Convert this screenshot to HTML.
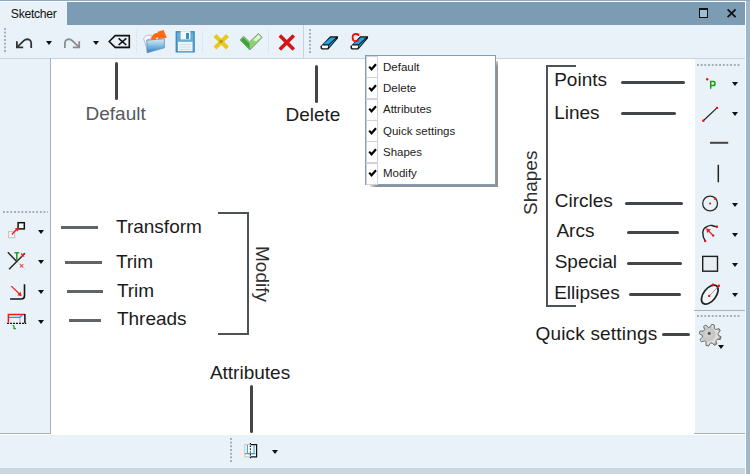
<!DOCTYPE html>
<html><head><meta charset="utf-8">
<style>
*{margin:0;padding:0;box-sizing:border-box}
html,body{width:750px;height:474px;overflow:hidden;background:#a0b8ca}
body{position:relative;font-family:"Liberation Sans",sans-serif}
.a{position:absolute}
.lt{background:#e9f2f8}
.t{position:absolute;white-space:nowrap;line-height:1}
.dd{position:absolute;width:0;height:0;border-left:3.5px solid transparent;border-right:3.5px solid transparent;border-top:4px solid #111}
.grip{position:absolute;width:2px;background-image:linear-gradient(#a3abb3 40%,transparent 40%);background-size:2px 3.7px}
.griph{position:absolute;height:2px;background-image:linear-gradient(90deg,#a3abb3 50%,transparent 50%);background-size:3.7px 2px}
.ln{position:absolute;background:#42464a}
.ln.g{background:#616467}
.ann{position:absolute;white-space:nowrap;line-height:1;font-size:19px;color:#1b1b1b}
.mi{position:absolute;left:0;width:130px;height:21.33px}
.mi .cb{position:absolute;left:0;top:0;width:12px;height:22px;border:1px solid #cfd3d7;background:#fff}
.mi .ck{position:absolute;left:2px;top:6.7px}
.mi .tx{position:absolute;left:17px;top:4.5px;font-size:11.5px;color:#1f1a1a;white-space:nowrap}
</style></head><body>
<!-- top line -->
<div class="a" style="left:0;top:0;width:750px;height:1px;background:#8eaac0"></div>
<div class="a" style="left:0;top:1px;width:746px;height:473px;background:#fff"></div>
<!-- tab -->
<div class="a lt" style="left:0;top:2px;width:67px;height:23px"></div>
<div class="t" style="left:10.8px;top:8.4px;font-size:12.2px;letter-spacing:-0.3px;color:#111">Sketcher</div>
<div class="a" style="left:67px;top:2px;width:678px;height:23px;background:#7b9cb3"></div>
<!-- maximize / close -->
<div class="a" style="left:699.4px;top:8px;width:9px;height:9.8px;border:1.8px solid #111;border-top-width:2.4px;background:#9fbfd4"></div>
<svg class="a" style="left:726px;top:8px" width="11" height="11" viewBox="0 0 11 11"><path d="M1.6 1.4 L9.6 9.2 M9.6 1.4 L1.6 9.2" stroke="#111" stroke-width="1.8"/></svg>
<!-- toolbar -->
<div class="a lt" style="left:0;top:25px;width:745px;height:33px"></div>
<div class="a" style="left:0;top:58px;width:745px;height:1px;background:#c9d3db"></div>
<div class="grip" style="left:4px;top:28px;height:26px"></div>
<div class="a" style="left:303px;top:25px;width:1px;height:33px;background:#c9d3db"></div>
<div class="grip" style="left:309px;top:29px;height:25px"></div>

<!-- left strip -->
<div class="a lt" style="left:0;top:59px;width:50px;height:374px"></div>
<div class="a" style="left:50px;top:58px;width:1px;height:376px;background:#aab2b9"></div>
<div class="a" style="left:0;top:433px;width:51px;height:1px;background:#aab2b9"></div>
<div class="griph" style="left:3px;top:211px;width:45px"></div>
<!-- right strip -->
<div class="a lt" style="left:695px;top:59px;width:50px;height:374px"></div>
<div class="a" style="left:694px;top:433px;width:51px;height:1px;background:#aab2b9"></div>
<div class="griph" style="left:697px;top:64px;width:44px"></div>
<div class="a" style="left:694px;top:310px;width:51px;height:1px;background:#aab2b9"></div>
<div class="griph" style="left:697px;top:315px;width:44px"></div>
<!-- bottom bar -->
<div class="a lt" style="left:0;top:435px;width:745px;height:33px"></div>
<div class="a" style="left:0;top:468px;width:745px;height:6px;background:#c9d7de"></div>
<div class="grip" style="left:230px;top:438px;height:25px"></div>

<!-- annotations -->
<div class="ln" style="left:115px;top:62px;width:3px;height:38px;border-radius:1.5px"></div>
<div class="ann" style="left:85.5px;top:104.3px;color:#55595d">Default</div>
<div class="ln" style="left:315px;top:65px;width:3px;height:38px;border-radius:1.5px"></div>
<div class="ann" style="left:285.5px;top:105.2px">Delete</div>
<div class="ln" style="left:250px;top:384.5px;width:3px;height:48px;border-radius:1.5px"></div>
<div class="ann" style="left:209.9px;top:362.5px">Attributes</div>

<div class="ln g" style="left:61px;top:226px;width:37px;height:3px"></div>
<div class="ann" style="left:116px;top:217px">Transform</div>
<div class="ln g" style="left:64.6px;top:261px;width:37px;height:3px"></div>
<div class="ann" style="left:115.9px;top:251.6px">Trim</div>
<div class="ln g" style="left:66.7px;top:290px;width:36px;height:3px"></div>
<div class="ann" style="left:116.9px;top:281px">Trim</div>
<div class="ln g" style="left:68.9px;top:318.5px;width:32px;height:3px"></div>
<div class="ann" style="left:116.9px;top:309.2px">Threads</div>
<!-- modify bracket -->
<div class="a" style="left:217.5px;top:212px;width:31px;height:123px;border:2px solid #4d5257;border-left:none"></div>
<div class="ann rot" style="color:#2e2e2e;left:253.2px;top:246.4px;transform-origin:0 0;transform:translate(19px,0) rotate(90deg)">Modify</div>

<!-- shapes bracket -->
<div class="a" style="left:545.5px;top:65px;width:30px;height:242px;border:2px solid #4d5257;border-right:none"></div>
<div class="ann rot" style="color:#2e2e2e;left:520.8px;top:214.6px;transform-origin:0 0;transform:rotate(-90deg)">Shapes</div>
<div class="ann" style="left:554.2px;top:70.2px">Points</div>
<div class="ln" style="left:620.5px;top:80.5px;width:64.5px;height:3px;border-radius:1.5px"></div>
<div class="ann" style="left:554.2px;top:102.9px">Lines</div>
<div class="ln" style="left:620.5px;top:112px;width:55.5px;height:3px;border-radius:1.5px"></div>
<div class="ann" style="left:554.7px;top:190.6px">Circles</div>
<div class="ln" style="left:624.5px;top:201.5px;width:58.5px;height:3px;border-radius:1.5px"></div>
<div class="ann" style="left:556.4px;top:221px">Arcs</div>
<div class="ln" style="left:626.5px;top:230.5px;width:52.5px;height:3px;border-radius:1.5px"></div>
<div class="ann" style="left:554.7px;top:251.9px">Special</div>
<div class="ln" style="left:627px;top:261.5px;width:54.5px;height:3px;border-radius:1.5px"></div>
<div class="ann" style="left:554.2px;top:283px">Ellipses</div>
<div class="ln" style="left:628.5px;top:293px;width:52.5px;height:3px;border-radius:1.5px"></div>
<div class="ann" style="left:535.5px;top:324.4px;letter-spacing:0.18px">Quick settings</div>
<div class="ln" style="left:662px;top:333px;width:28px;height:3px;border-radius:1.5px"></div>

<!-- icons overlay -->
<svg class="a" style="left:0;top:0" width="750" height="474" viewBox="0 0 750 474">
<defs>
 <linearGradient id="fold" x1="0" y1="0" x2="0" y2="1"><stop offset="0" stop-color="#d8ecf8"/><stop offset="0.45" stop-color="#8cc2e6"/><stop offset="1" stop-color="#2f7fc0"/></linearGradient>
 <radialGradient id="gear" cx="0.4" cy="0.45" r="0.6"><stop offset="0" stop-color="#d8d8d8"/><stop offset="0.45" stop-color="#c4c4c4"/><stop offset="0.75" stop-color="#e8e8e8"/><stop offset="1" stop-color="#8a8a8a"/></radialGradient>
</defs>
<!-- undo -->
<g fill="none" stroke="#333" stroke-width="1.8" stroke-linecap="butt">
 <path d="M16.9 41.2 V47.4 H23.2"/>
 <path d="M17.4 46.9 L23.8 40.6 Q26.6 38.4 29.4 39.8 Q31.2 40.9 31.2 43.2 V48"/>
</g>
<!-- redo -->
<g fill="none" stroke="#8c8c8c" stroke-width="1.8">
 <path d="M79.2 41.2 V47.4 H72.9"/>
 <path d="M78.7 46.9 L72.3 40.6 Q69.5 38.4 66.7 39.8 Q64.9 40.9 64.9 43.2 V48"/>
</g>
<!-- backspace -->
<path d="M109.2 41.5 L115.2 35.6 H129.3 V47.4 H115.2 Z" fill="none" stroke="#111" stroke-width="1.6" stroke-linejoin="miter"/>
<path d="M115.2 47.6 H129.3" stroke="#111" stroke-width="1"/>
<path d="M118.6 38.3 L126.3 45 M126.3 38.3 L118.6 45" stroke="#111" stroke-width="1.6"/>
<!-- separators -->
<path d="M136.5 30 V54" stroke="#d4dde4" stroke-width="1" stroke-dasharray="1 1"/>
<path d="M202.5 30 V54" stroke="#d4dde4" stroke-width="1" stroke-dasharray="1 1"/>
<path d="M268.5 30 V54" stroke="#d4dde4" stroke-width="1" stroke-dasharray="1 1"/>
<!-- folder -->
<path d="M143.5 38.5 L146 35.5 L151 35 L152.5 38 L147 40 L147.5 51 Z" fill="#f4f6f8" stroke="#b8c0c6" stroke-width="1"/>
<path d="M146.8 40.2 L164.4 38.8 L164.4 47.8 L147.1 52.8 Z" fill="url(#fold)" stroke="#5c93bb" stroke-width="0.8"/>
<path d="M153.4 40 Q153.2 35.2 158.5 35" fill="none" stroke="#ff6a12" stroke-width="4.6"/>
<path d="M157.5 31.8 L163.6 30 L166.8 37.8 L158.2 39.2 Z" fill="#ff6a12"/>
<!-- floppy -->
<rect x="176.3" y="31.8" width="17.8" height="20" fill="#64acd6" stroke="#3d8dbd" stroke-width="1.4"/>
<rect x="180.6" y="31.2" width="9.8" height="8.2" fill="#f4f8fa"/>
<rect x="186" y="33" width="3" height="5.9" fill="#3a8fbe"/>
<rect x="178" y="41.8" width="14.5" height="9.4" fill="#eef4f8"/>
<path d="M179.5 44.5 H191 M179.5 47 H191 M179.5 49.5 H191" stroke="#c9dce8" stroke-width="0.8"/>
<!-- yellow x -->
<g stroke="#e8c81a" stroke-width="4" stroke-linecap="butt"><path d="M215 35.5 L227.5 48 M227.5 35.5 L215 48"/></g>
<g fill="#b08a10"><rect x="219.5" y="40" width="3" height="3" opacity="0.75"/></g>
<!-- green check -->
<path d="M240.2 40 L243.5 36.2 L249.5 42 L258.5 33.5 L262 37.5 L249.8 50 Z" fill="#8fd46a" stroke="#7a9a86" stroke-width="1"/>
<path d="M240.8 40.2 L243.5 37.5 L249.5 43.5 L249.8 49.2 Z" fill="#3fa23a"/>
<path d="M253 40 L258.5 34.5 L261 37.3 L256 41.5 Z" fill="#e4f4d8"/>
<!-- red x -->
<g stroke="#d01818" stroke-width="3.6"><path d="M279.8 35.5 L293.8 49.5 M293.8 35.5 L279.8 49.5"/></g>
<!-- eraser 1 -->
<g transform="translate(0,0)">
 <path d="M320.6 46.2 L330.2 36.3 L338.2 36.3 L337.8 38.6 L328.3 49.6 L322.2 49.6 Q320.2 49.4 320.6 46.2 Z" fill="#111"/>
 <path d="M323 44.2 L330.8 37.6 L336 37.6 L328.6 44.2 Z" fill="#1fa5e2"/>
 <path d="M329.4 44.8 L336.6 38.6 L328.8 47.6 Z" fill="#1fa5e2"/>
 <path d="M322 45.6 L328.4 45.6 L327.6 48.2 L322.4 48.2 Q321.6 47.2 322 45.6 Z" fill="#fff"/>
</g>
<g transform="translate(30,0)">
 <path d="M320.6 46.2 L330.2 36.3 L338.2 36.3 L337.8 38.6 L328.3 49.6 L322.2 49.6 Q320.2 49.4 320.6 46.2 Z" fill="#111"/>
 <path d="M323 44.2 L330.8 37.6 L336 37.6 L328.6 44.2 Z" fill="#1fa5e2"/>
 <path d="M329.4 44.8 L336.6 38.6 L328.8 47.6 Z" fill="#1fa5e2"/>
 <path d="M322 45.6 L328.4 45.6 L327.6 48.2 L322.4 48.2 Q321.6 47.2 322 45.6 Z" fill="#fff"/>
</g>
<path d="M358.6 35.2 Q357.5 34 355.6 34 Q352.6 34 352.6 37.6 Q352.6 41.2 355.6 41.2 Q357.5 41.2 358.6 40" fill="none" stroke="#f01010" stroke-width="1.8"/>
<path d="M358.6 33.6 V36" stroke="#f01010" stroke-width="1.4"/>

<!-- left strip: transform -->
<rect x="8.6" y="231.5" width="6.2" height="6.2" fill="#f4f6f8" stroke="#c4c8cc" stroke-width="1.2"/>
<rect x="18.1" y="222.7" width="6.2" height="6.2" fill="#fbfcfd" stroke="#111" stroke-width="1.5"/>
<path d="M11.8 234.4 L17.5 228.6" stroke="#f01c1c" stroke-width="1.4"/>
<path d="M19 227.2 L14.8 228.4 L17.8 231.4 Z" fill="#f01c1c"/>
<!-- trim -->
<path d="M7.8 252.3 L16.5 261.2" stroke="#222" stroke-width="1.4"/>
<path d="M16.5 261.2 L24.9 269.4" stroke="#c8ccd0" stroke-width="1"/>
<path d="M9.1 269.2 L24.9 253.3" stroke="#222" stroke-width="1.4"/>
<path d="M14.4 252.8 H19.2 M16.8 252.8 V260.2" stroke="#2f9a2f" stroke-width="1.6"/>
<path d="M21 253.5 L24.2 256.7 M24.2 253.5 L21 256.7" stroke="#f02020" stroke-width="1.1"/>
<path d="M20 264.2 L23.2 267.4 M23.2 264.2 L20 267.4" stroke="#f05050" stroke-width="1.1"/>
<!-- fillet -->
<path d="M24.5 284.3 V295.8 Q24.5 299 21.3 299 H10.1" fill="none" stroke="#151515" stroke-width="1.6"/>
<path d="M11.3 286.1 L19.8 294.3" stroke="#f02020" stroke-width="1.3"/>
<path d="M21.8 296.2 L17.2 295.2 L20.6 291.8 Z" fill="#f02020"/>
<!-- threads -->
<path d="M8.4 322.6 V314.4 H25" fill="none" stroke="#f01818" stroke-width="1.5"/>
<path d="M24.9 314 V323.2" stroke="#111" stroke-width="1.5"/>
<path d="M9 317.3 H19.8 L22.3 315" fill="none" stroke="#1ca0e0" stroke-width="1.2"/>
<path d="M19.9 317.6 V322.6" stroke="#e05060" stroke-width="1.2" stroke-dasharray="1 1"/>
<path d="M7 323.3 H26.2" stroke="#111" stroke-width="1.2" stroke-dasharray="2 1"/>
<path d="M12.8 325.2 L14 326.4 V328.6 H15.9" fill="none" stroke="#2a9a2a" stroke-width="1.3"/>

<!-- right strip: point -->
<circle cx="707.2" cy="79.3" r="1.2" fill="#f01010"/>
<path d="M710.7 88.7 V81.6 H713.3 Q715 81.6 715 83.7 Q715 85.6 713.3 85.6 H710.7" fill="none" stroke="#1c9a1c" stroke-width="1.5"/>
<!-- line -->
<path d="M703.3 120.8 L717 107.9" stroke="#222" stroke-width="1.2"/>
<circle cx="703.3" cy="120.8" r="1.2" fill="#f01010"/>
<circle cx="717" cy="107.9" r="1.2" fill="#f01010"/>
<path d="M710 142.8 H728.2" stroke="#444" stroke-width="2"/>
<path d="M718.3 164.8 V182.3" stroke="#222" stroke-width="1.5"/>
<!-- circle -->
<circle cx="710.1" cy="203.5" r="7.4" fill="none" stroke="#2a2a2a" stroke-width="1.3"/>
<circle cx="710.1" cy="203.5" r="1.1" fill="#f01010"/>
<circle cx="715.2" cy="198.7" r="1.2" fill="#f01010"/>
<!-- arc -->
<path d="M705.2 241 Q702.6 237 702.8 232.5 Q703 228.5 706.5 226.8 Q709.5 225 712 225.5 Q714 226.5 717 226.8" fill="none" stroke="#222" stroke-width="1.4"/>
<path d="M713.2 235.6 L708 230.2" stroke="#f02020" stroke-width="1.3"/>
<path d="M706 228.2 L707.2 233 L710.8 229.4 Z" fill="#f02020"/>
<circle cx="705.2" cy="241.1" r="1.2" fill="#f01010"/>
<circle cx="713.2" cy="235.6" r="1.2" fill="#f01010"/>
<circle cx="717" cy="226.8" r="1.2" fill="#f01010"/>
<!-- square -->
<rect x="702.7" y="256.4" width="14.8" height="14.8" fill="#e8eef2" stroke="#1e1e1e" stroke-width="1.4"/>
<!-- ellipse -->
<ellipse cx="709.8" cy="294.6" rx="11" ry="6.2" transform="rotate(-52 709.8 294.6)" fill="#f2f5f7" stroke="#222" stroke-width="1.7"/>
<path d="M709.2 295.9 L717.5 287.5" stroke="#888" stroke-width="0.8"/>
<circle cx="709.2" cy="295.9" r="1.2" fill="#f01010"/>
<circle cx="712.8" cy="284.9" r="1.3" fill="#f01010"/>
<circle cx="718.8" cy="285.8" r="1.3" fill="#f01010"/>
<!-- gear -->
<g transform="translate(710.2 335.2)">
 <path d="M0.00 -8.00 L1.55 -10.89 L4.21 -10.16 L4.07 -6.89 L5.66 -5.66 L8.80 -6.60 L10.16 -4.21 L7.75 -1.99 L8.00 0.00 L10.89 1.55 L10.16 4.21 L6.89 4.07 L5.66 5.66 L6.60 8.80 L4.21 10.16 L1.99 7.75 L0.00 8.00 L-1.55 10.89 L-4.21 10.16 L-4.07 6.89 L-5.66 5.66 L-8.80 6.60 L-10.16 4.21 L-7.75 1.99 L-8.00 0.00 L-10.89 -1.55 L-10.16 -4.21 L-6.89 -4.07 L-5.66 -5.66 L-6.60 -8.80 L-4.21 -10.16 L-1.99 -7.75 Z" fill="url(#gear)" stroke="#6e6e6e" stroke-width="1" stroke-linejoin="round"/>
 <circle cx="-1" cy="-1.8" r="1.6" fill="#5a5a5a"/>
</g>
<!-- attributes icon -->
<rect x="244.8" y="444.6" width="5.8" height="12.2" fill="#fafcfd" stroke="#c0c4c8" stroke-width="1"/>
<path d="M250.6 444.6 H256.6 V456.8 H250.6" fill="#fafcfd" stroke="#111" stroke-width="1.2"/>
<path d="M247.4 445 V453.7 H254 V445 M245 453.7 H255.5" fill="none" stroke="#18a0e8" stroke-width="1"/>
<path d="M250.4 443 V458.5" stroke="#111" stroke-width="1.2" stroke-dasharray="1.2 1.6"/>
</svg>
<!-- dropdown arrows -->
<div class="dd" style="left:45.5px;top:40.8px"></div>
<div class="dd" style="left:93px;top:40.8px"></div>
<div class="dd" style="left:38px;top:230.2px"></div>
<div class="dd" style="left:38px;top:260.2px"></div>
<div class="dd" style="left:38px;top:290.2px"></div>
<div class="dd" style="left:38px;top:320.4px"></div>
<div class="dd" style="left:731.5px;top:82px"></div>
<div class="dd" style="left:731.5px;top:112.3px"></div>
<div class="dd" style="left:731.5px;top:202.5px"></div>
<div class="dd" style="left:731.5px;top:232.6px"></div>
<div class="dd" style="left:731.5px;top:263.1px"></div>
<div class="dd" style="left:731.5px;top:293.3px"></div>
<div class="dd" style="left:718px;top:344.9px"></div>
<div class="dd" style="left:272px;top:450px"></div>
<!-- popup menu -->
<div class="a" style="left:496px;top:61px;width:2px;height:126px;background:linear-gradient(#c8ccd0,#8e9296 6px)"></div>
<div class="a" style="left:370px;top:185px;width:126px;height:2px;background:linear-gradient(90deg,#e4e6e8,#8e9296 6px)"></div>
<div class="a" style="left:365px;top:55px;width:131px;height:130px;background:#fff;border:1px solid #7f9fb6"></div>
<div class="a" style="left:366px;top:56px;width:129px;height:127px">
 <div class="mi" style="top:0"><div class="cb"></div><svg class="ck" width="10" height="9" viewBox="0 0 10 9"><path d="M1.2 3.6 L3.5 6.3 L8 1.2" fill="none" stroke="#000" stroke-width="2.1"/></svg><div class="tx">Default</div></div>
 <div class="mi" style="top:21.33px"><div class="cb"></div><svg class="ck" width="10" height="9" viewBox="0 0 10 9"><path d="M1.2 3.6 L3.5 6.3 L8 1.2" fill="none" stroke="#000" stroke-width="2.1"/></svg><div class="tx">Delete</div></div>
 <div class="mi" style="top:42.67px"><div class="cb"></div><svg class="ck" width="10" height="9" viewBox="0 0 10 9"><path d="M1.2 3.6 L3.5 6.3 L8 1.2" fill="none" stroke="#000" stroke-width="2.1"/></svg><div class="tx">Attributes</div></div>
 <div class="mi" style="top:64px"><div class="cb"></div><svg class="ck" width="10" height="9" viewBox="0 0 10 9"><path d="M1.2 3.6 L3.5 6.3 L8 1.2" fill="none" stroke="#000" stroke-width="2.1"/></svg><div class="tx">Quick settings</div></div>
 <div class="mi" style="top:85.33px"><div class="cb"></div><svg class="ck" width="10" height="9" viewBox="0 0 10 9"><path d="M1.2 3.6 L3.5 6.3 L8 1.2" fill="none" stroke="#000" stroke-width="2.1"/></svg><div class="tx">Shapes</div></div>
 <div class="mi" style="top:106.67px"><div class="cb"></div><svg class="ck" width="10" height="9" viewBox="0 0 10 9"><path d="M1.2 3.6 L3.5 6.3 L8 1.2" fill="none" stroke="#000" stroke-width="2.1"/></svg><div class="tx">Modify</div></div>
</div>
</body></html>
